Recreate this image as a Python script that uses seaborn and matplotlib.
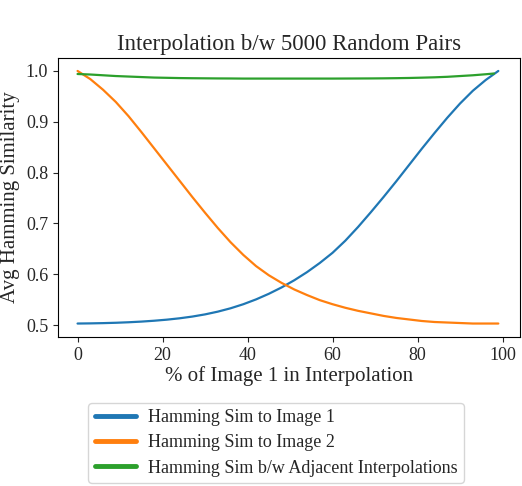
import matplotlib
matplotlib.use("Agg")
import matplotlib.pyplot as plt
from matplotlib.lines import Line2D
import seaborn as sns
import pandas as pd

x_pts = [0, 3, 6, 9, 12, 15, 18, 21, 24, 27, 30, 33, 36, 39, 42, 45, 48,
         51, 54, 57, 60, 63, 66, 69, 72, 75, 78, 81, 84, 87, 90, 93, 96, 99]
sim_img1 = [0.503, 0.5033, 0.5038, 0.5045, 0.5055, 0.5068, 0.5085, 0.5106, 0.5133, 0.5167,
            0.521, 0.5264, 0.533, 0.541, 0.5505, 0.5615, 0.574, 0.5882, 0.6042, 0.6222,
            0.6422, 0.666, 0.693, 0.722, 0.752, 0.783, 0.815, 0.847, 0.878, 0.908,
            0.936, 0.961, 0.982, 1.000]
sim_img2 = [1.000, 0.984, 0.963, 0.939, 0.911, 0.880, 0.848, 0.816, 0.784, 0.752,
            0.721, 0.691, 0.663, 0.638, 0.616, 0.598, 0.583, 0.570, 0.559, 0.549,
            0.541, 0.534, 0.528, 0.523, 0.518, 0.514, 0.511, 0.508, 0.506, 0.505,
            0.504, 0.503, 0.503, 0.503]
x_adj = [0, 3, 6, 9, 12, 15, 18, 21, 24, 27, 30, 33, 36, 39, 42, 45, 48,
         51, 54, 57, 60, 63, 66, 69, 72, 75, 78, 81, 84, 87, 90, 93, 96, 98]
sim_adj = [0.994, 0.993, 0.9915, 0.990, 0.989, 0.988, 0.987, 0.9865, 0.986, 0.9857,
           0.9855, 0.9853, 0.9852, 0.985, 0.985, 0.985, 0.985, 0.985, 0.985, 0.985,
           0.985, 0.9851, 0.9852, 0.9853, 0.9855, 0.9858, 0.9862, 0.9868, 0.9875, 0.9885,
           0.990, 0.9915, 0.9935, 0.995]
labels = ["Hamming Sim to Image 1", "Hamming Sim to Image 2",
          "Hamming Sim b/w Adjacent Interpolations"]

df = pd.concat([
    pd.DataFrame({"x": x_pts, "y": sim_img1, "series": labels[0]}),
    pd.DataFrame({"x": x_pts, "y": sim_img2, "series": labels[1]}),
    pd.DataFrame({"x": x_adj, "y": sim_adj, "series": labels[2]}),
])

sns.set_style("ticks")
plt.rcParams["font.family"] = ["Liberation Serif", "DejaVu Serif"]

fig = plt.figure(figsize=(5.22, 4.86), dpi=100)
ax = fig.add_axes([58/522, 1-337/486, (520-58)/522, (337-58)/486])
palette = sns.color_palette("tab10", 3)
sns.lineplot(data=df, x="x", y="y", hue="series", palette=palette, ax=ax,
             linewidth=1.6, legend=False)

ax.set_title("Interpolation b/w 5000 Random Pairs", fontsize=16.5, pad=6)
ax.set_xlabel("% of Image 1 in Interpolation", fontsize=15, labelpad=2)
ax.set_ylabel("Avg Hamming Similarity", fontsize=15, labelpad=4)
ax.set_xticks([0, 20, 40, 60, 80, 100])
ax.set_yticks([0.5, 0.6, 0.7, 0.8, 0.9, 1.0])
ax.tick_params(labelsize=13)
ax.set_xlim(-4.6, 104.1)
ax.set_ylim(0.4765, 1.0255)
for s in ax.spines.values():
    s.set_visible(True)
    s.set_color("black")

handles = [Line2D([], [], color=c, linewidth=3.5) for c in palette]
fig.legend(handles, labels, loc="upper center", bbox_to_anchor=(276/522, 1-403/486),
           borderaxespad=0, fontsize=13, handlelength=2.3, frameon=True,
           borderpad=0.35, labelspacing=0.45, handletextpad=0.65)

fig.savefig("out.png", dpi=100)
